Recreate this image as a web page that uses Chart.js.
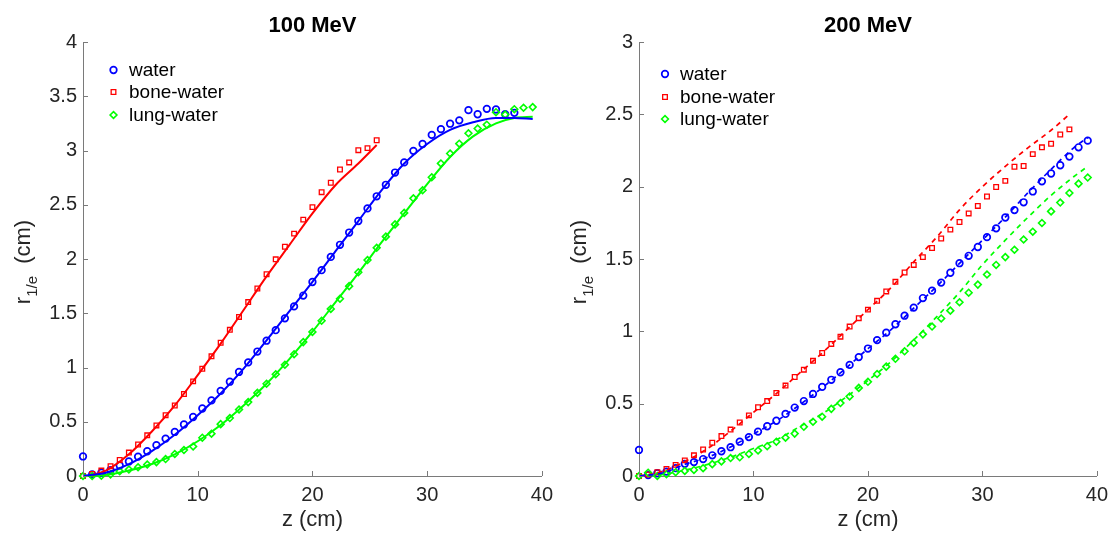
<!DOCTYPE html>
<html>
<head>
<meta charset="utf-8">
<script src="https://cdn.jsdelivr.net/npm/chart.js@4.4.1/dist/chart.umd.min.js"></script>
<style>
  html, body { margin: 0; padding: 0; background: #fff; width: 1115px; height: 533px; overflow: hidden; }
  .panel { position: absolute; top: 0; width: 560px; height: 533px; }
</style>
</head>
<body>
<div class="panel" style="left:0"><canvas id="c100" width="560" height="533"></canvas></div>
<div class="panel" style="left:555px"><canvas id="c200" width="560" height="533"></canvas></div>
<script>
// Depth positions of the sampled beam widths (cm)
const zGrid = [0, 0.8, 1.6, 2.4, 3.2, 4, 4.8, 5.6, 6.4, 7.2, 8, 8.8, 9.6, 10.4, 11.2, 12, 12.8, 13.6, 14.4, 15.2,
  16, 16.8, 17.6, 18.4, 19.2, 20, 20.8, 21.6, 22.4, 23.2, 24, 24.8, 25.6, 26.4, 27.2, 28, 28.8, 29.6, 30.4, 31.2,
  32, 32.8, 33.6, 34.4, 35.2, 36, 36.8, 37.6, 38.4, 39.2];

// 100 MeV: simulated r_1/e (cm)
const water100 = [0.18, 0.015, 0.03, 0.055, 0.097, 0.134, 0.178, 0.228, 0.284, 0.344, 0.406, 0.475, 0.544, 0.622, 0.697,
  0.784, 0.869, 0.959, 1.047, 1.147, 1.247, 1.344, 1.453, 1.563, 1.663, 1.788, 1.897, 2.019, 2.131, 2.244, 2.35, 2.466,
  2.578, 2.684, 2.797, 2.89, 2.997, 3.06, 3.144, 3.197, 3.247, 3.278, 3.372, 3.334, 3.384, 3.378, 3.334, 3.347];
const bone100 = [0, 0.019, 0.05, 0.09, 0.147, 0.216, 0.29, 0.375, 0.466, 0.56, 0.65, 0.756, 0.872, 0.988, 1.103, 1.228,
  1.347, 1.466, 1.603, 1.728, 1.859, 1.997, 2.113, 2.234, 2.363, 2.478, 2.616, 2.703, 2.825, 2.89, 3.003, 3.022, 3.094];
const lung100 = [0, 0, 0.003, 0.015, 0.044, 0.06, 0.081, 0.106, 0.128, 0.156, 0.203, 0.24, 0.272, 0.353, 0.39, 0.478,
  0.534, 0.613, 0.681, 0.766, 0.85, 0.938, 1.025, 1.122, 1.234, 1.328, 1.431, 1.54, 1.634, 1.75, 1.878, 1.99, 2.103,
  2.206, 2.319, 2.425, 2.559, 2.634, 2.753, 2.881, 2.972, 3.063, 3.159, 3.203, 3.238, 3.353, 3.331, 3.381, 3.394, 3.4];

// 100 MeV: model curves
const fitZ100 = [0, 2, 4, 6, 8, 10, 12, 14, 16, 18, 20, 22, 24, 26, 28, 30, 32, 34, 36, 37.6, 39.2];
const waterFit100 = [0, 0.03, 0.11, 0.23, 0.38, 0.56, 0.76, 0.99, 1.25, 1.52, 1.79, 2.07, 2.35, 2.63, 2.88, 3.06, 3.19, 3.26, 3.3, 3.3, 3.29];
const lungFit100 = [0, 0.01, 0.05, 0.11, 0.2, 0.32, 0.47, 0.65, 0.85, 1.08, 1.33, 1.6, 1.87, 2.15, 2.42, 2.69, 2.94, 3.13, 3.25, 3.3, 3.31];
const boneFitZ100 = [0.8, 2, 4, 6, 8, 10, 12, 14, 16, 18, 20, 22, 24, 25.6];
const boneFit100 = [0.01, 0.05, 0.2, 0.41, 0.65, 0.93, 1.22, 1.53, 1.84, 2.13, 2.42, 2.68, 2.88, 3.05];

// 200 MeV: simulated r_1/e (cm)
const water200 = [0.18, 0.007, 0.019, 0.03, 0.054, 0.084, 0.096, 0.117, 0.143, 0.171, 0.199, 0.237, 0.269, 0.307, 0.344,
  0.382, 0.429, 0.473, 0.518, 0.567, 0.616, 0.665, 0.717, 0.768, 0.822, 0.881, 0.939, 0.991, 1.049, 1.108, 1.164, 1.23,
  1.281, 1.337, 1.405, 1.471, 1.522, 1.583, 1.651, 1.712, 1.787, 1.838, 1.892, 1.967, 2.037, 2.091, 2.148, 2.208, 2.272, 2.318];
const bone200 = [0, 0.01, 0.026, 0.049, 0.077, 0.108, 0.143, 0.183, 0.23, 0.276, 0.321, 0.37, 0.419, 0.475, 0.518, 0.574,
  0.625, 0.684, 0.735, 0.796, 0.85, 0.913, 0.963, 1.033, 1.091, 1.15, 1.211, 1.276, 1.342, 1.407, 1.459, 1.513, 1.576,
  1.642, 1.703, 1.756, 1.815, 1.867, 1.932, 1.998, 2.04, 2.138, 2.143, 2.225, 2.272, 2.297, 2.361, 2.396];
const lung200 = [0, 0.023, 0, 0.012, 0.026, 0.035, 0.042, 0.054, 0.082, 0.101, 0.124, 0.129, 0.152, 0.176, 0.206, 0.237,
  0.265, 0.293, 0.34, 0.375, 0.41, 0.464, 0.504, 0.55, 0.609, 0.651, 0.705, 0.756, 0.81, 0.862, 0.92, 0.979, 1.033,
  1.089, 1.143, 1.201, 1.267, 1.323, 1.393, 1.459, 1.513, 1.564, 1.635, 1.689, 1.749, 1.829, 1.89, 1.956, 2.021, 2.063];

// 200 MeV: model curves (dashed)
const fitZ200 = [0, 2, 4, 6, 8, 10, 12, 14, 16, 18, 20, 22, 24, 26, 28, 30, 32, 34, 36, 38, 39.2];
const waterFit200 = [0, 0.02, 0.08, 0.13, 0.2, 0.29, 0.38, 0.49, 0.61, 0.74, 0.88, 1.01, 1.16, 1.31, 1.47, 1.63, 1.79, 1.96, 2.12, 2.27, 2.34];
const lungFit200 = [0, 0.01, 0.04, 0.08, 0.13, 0.19, 0.25, 0.34, 0.43, 0.54, 0.66, 0.79, 0.94, 1.1, 1.27, 1.46, 1.63, 1.79, 1.94, 2.07, 2.14];
const boneFitZ200 = [0, 2, 4, 6, 8, 10, 12, 14, 16, 18, 20, 22, 24, 26, 28, 30, 32, 34, 36, 37.6];
const boneFit200 = [0, 0.03, 0.1, 0.19, 0.31, 0.44, 0.57, 0.71, 0.85, 1.0, 1.15, 1.3, 1.48, 1.65, 1.84, 2.0, 2.14, 2.27, 2.39, 2.5];

// Axis ticks
const xTickValues = [0, 10, 20, 30, 40];
const xTickLabels = ['0', '10', '20', '30', '40'];
const yTickValues100 = [0, 0.5, 1, 1.5, 2, 2.5, 3, 3.5, 4];
const yTickLabels100 = ['0', '0.5', '1', '1.5', '2', '2.5', '3', '3.5', '4'];
const yTickValues200 = [0, 0.5, 1, 1.5, 2, 2.5, 3];
const yTickLabels200 = ['0', '0.5', '1', '1.5', '2', '2.5', '3'];

const seriesNames = ['water', 'bone-water', 'lung-water'];

const FONT = '"Liberation Sans", Arial, Helvetica, sans-serif';
const AXIS_COLOR = '#7a7a7a';
const TEXT_COLOR = '#262626';
const BLUE = '#0000ff', RED = '#ff0000', GREEN = '#00ff00';

Chart.defaults.font.family = FONT;

const markerStyles = [
  { color: BLUE, pointStyle: 'circle', radius: 3.3, borderWidth: 1.7 },
  { color: RED, pointStyle: 'rect', radius: 3.3, borderWidth: 1.3 },
  { color: GREEN, pointStyle: 'rectRot', radius: 3.4, borderWidth: 1.6 }
];

function pts(xs, ys) { return ys.map((v, i) => ({ x: xs[i], y: v })); }

function markerSet(label, ys, k, order) {
  const m = markerStyles[k];
  return {
    label, data: pts(zGrid, ys), showLine: false, order,
    pointStyle: m.pointStyle, pointRadius: m.radius, pointBorderWidth: m.borderWidth,
    pointBorderColor: m.color, pointBackgroundColor: 'rgba(0,0,0,0)', borderColor: m.color,
    pointHoverRadius: m.radius, clip: false
  };
}

function curveSet(xs, ys, color, dashed) {
  return {
    label: '', data: pts(xs, ys), order: 0, borderColor: color, borderWidth: dashed ? 1.7 : 2,
    borderDash: dashed ? [5, 4.5] : [], pointRadius: 0, cubicInterpolationMode: 'monotone', fill: false, clip: false
  };
}

// Title, rotated y label with subscript, inward tick marks and marker legend
const panelDecor = {
  id: 'panelDecor',
  afterDraw(chart, args, o) {
    const { ctx, chartArea: a, scales } = chart;
    ctx.save();
    // inward tick marks
    ctx.strokeStyle = AXIS_COLOR; ctx.lineWidth = 1;
    scales.x.ticks.forEach(t => {
      const px = Math.round(scales.x.getPixelForValue(t.value)) + 0.5;
      ctx.beginPath(); ctx.moveTo(px, a.bottom); ctx.lineTo(px, a.bottom - 5); ctx.stroke();
    });
    scales.y.ticks.forEach(t => {
      const py = Math.round(scales.y.getPixelForValue(t.value)) + 0.5;
      ctx.beginPath(); ctx.moveTo(a.left, py); ctx.lineTo(a.left + 5, py); ctx.stroke();
    });
    // title
    ctx.fillStyle = '#000';
    ctx.font = 'bold 22px ' + FONT;
    ctx.textAlign = 'center'; ctx.textBaseline = 'alphabetic';
    ctx.fillText(o.title, (a.left + a.right) / 2, 32);
    // y label: r_{1/e} (cm)
    ctx.save();
    ctx.translate(o.yLabelX, o.yLabelY);
    ctx.rotate(-Math.PI / 2);
    ctx.fillStyle = TEXT_COLOR;
    ctx.textAlign = 'left';
    ctx.font = '22px ' + FONT; const w1 = ctx.measureText('r').width;
    ctx.font = '15px ' + FONT; const w2 = ctx.measureText('1/e').width;
    ctx.font = '22px ' + FONT; const w3 = ctx.measureText('  (cm)').width;
    let sx = -(w1 + w2 + w3) / 2;
    ctx.font = '22px ' + FONT; ctx.fillText('r', sx, 0); sx += w1;
    ctx.font = '15px ' + FONT; ctx.fillText('1/e', sx, 7); sx += w2;
    ctx.font = '22px ' + FONT; ctx.fillText('  (cm)', sx, 0);
    ctx.restore();
    // legend
    ctx.font = '19px ' + FONT;
    ctx.textAlign = 'left'; ctx.textBaseline = 'middle';
    seriesNames.forEach((name, k) => {
      const m = markerStyles[k];
      const y = o.legendY[k];
      ctx.strokeStyle = m.color; ctx.fillStyle = 'rgba(0,0,0,0)';
      ctx.lineWidth = m.borderWidth;
      Chart.helpers.drawPoint(ctx, { pointStyle: m.pointStyle, radius: m.radius, borderWidth: m.borderWidth, rotation: 0 }, o.legendMarkerX, y);
      ctx.fillStyle = '#000';
      ctx.fillText(name, o.legendTextX, y + 1);
    });
    ctx.restore();
  }
};

function makePanel(id, cfg) {
  return new Chart(document.getElementById(id), {
    type: 'line',
    data: { datasets: cfg.datasets },
    options: {
      responsive: false, animation: false, devicePixelRatio: 1,
      layout: { padding: { left: 0, right: 14, top: 42, bottom: 0 } },
      plugins: {
        legend: { display: false }, title: { display: false }, tooltip: { enabled: false },
        panelDecor: cfg.decor
      },
      scales: {
        x: {
          type: 'linear', min: 0, max: 40,
          grid: { display: false, drawTicks: false },
          border: { display: true, color: AXIS_COLOR, width: 1 },
          afterBuildTicks: s => { s.ticks = xTickValues.map(v => ({ value: v })); },
          afterFit: s => { s.height = 57; },
          ticks: { padding: 7, color: TEXT_COLOR, font: { size: 20 }, maxRotation: 0, autoSkip: false,
                   callback: (v, i) => xTickLabels[i] },
          title: { display: true, text: 'z (cm)', color: TEXT_COLOR, font: { size: 22 }, padding: { top: 0, bottom: 0 } }
        },
        y: {
          type: 'linear', min: 0, max: cfg.yMax,
          grid: { display: false, drawTicks: false },
          border: { display: true, color: AXIS_COLOR, width: 1 },
          afterBuildTicks: s => { s.ticks = cfg.yTicks.map(v => ({ value: v })); },
          afterFit: s => { s.width = cfg.yWidth; },
          ticks: { padding: 6, color: TEXT_COLOR, font: { size: 20 }, autoSkip: false,
                   callback: (v, i) => cfg.yLabels[i] }
        }
      }
    },
    plugins: [panelDecor]
  });
}

makePanel('c100', {
  yMax: 4, yTicks: yTickValues100, yLabels: yTickLabels100, yWidth: 83,
  datasets: [
    curveSet(fitZ100, waterFit100, BLUE, false),
    curveSet(boneFitZ100, boneFit100, RED, false),
    curveSet(fitZ100, lungFit100, GREEN, false),
    markerSet(seriesNames[0], water100, 0, 4),
    markerSet(seriesNames[1], bone100, 1, 3),
    markerSet(seriesNames[2], lung100, 2, 2)
  ],
  decor: { title: '100 MeV', yLabelX: 29.5, yLabelY: 262, legendMarkerX: 113.5, legendTextX: 129, legendY: [70, 92, 115] }
});

makePanel('c200', {
  yMax: 3, yTicks: yTickValues200, yLabels: yTickLabels200, yWidth: 84,
  datasets: [
    curveSet(fitZ200, waterFit200, BLUE, true),
    curveSet(boneFitZ200, boneFit200, RED, true),
    curveSet(fitZ200, lungFit200, GREEN, true),
    markerSet(seriesNames[0], water200, 0, 4),
    markerSet(seriesNames[1], bone200, 1, 3),
    markerSet(seriesNames[2], lung200, 2, 2)
  ],
  decor: { title: '200 MeV', yLabelX: 30.5, yLabelY: 262, legendMarkerX: 110, legendTextX: 125, legendY: [74, 97, 119] }
});
</script>
</body>
</html>
